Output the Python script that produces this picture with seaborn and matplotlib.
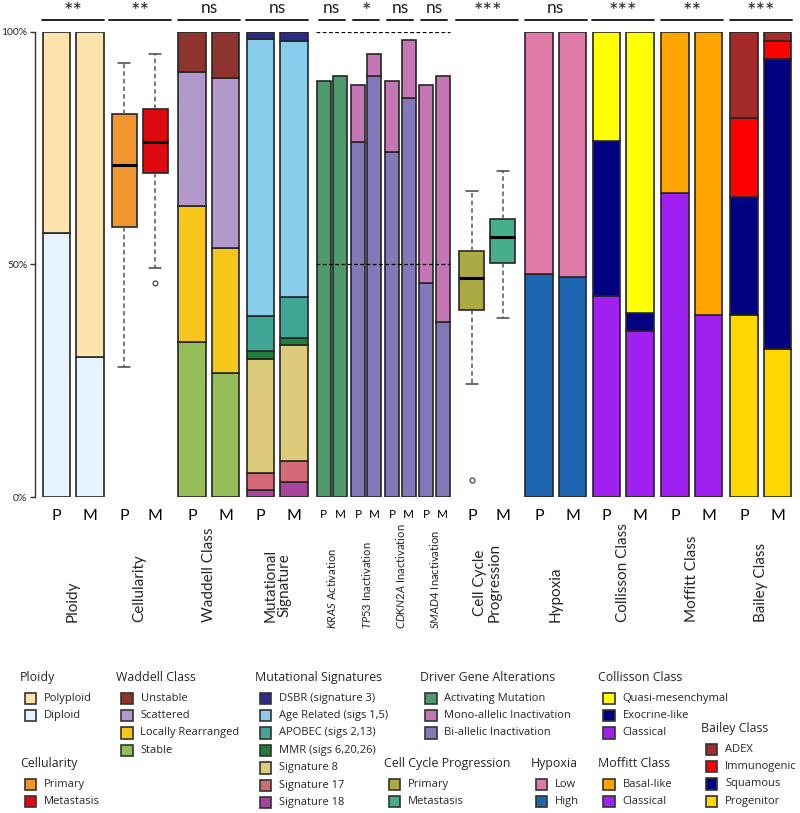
import matplotlib
matplotlib.use("Agg")
import matplotlib.pyplot as plt
import matplotlib.transforms as mtransforms
from matplotlib.patches import Rectangle
import seaborn as sns

sns.set_theme(style="white")
plt.rcParams["font.family"] = ["Lato", "DejaVu Sans"]
plt.rcParams["mathtext.fontset"] = "custom"
plt.rcParams["mathtext.rm"] = "Lato"
plt.rcParams["mathtext.it"] = "Lato:italic"

# ---- data (percent of tumours), categories listed top-of-stack first ----
samples = ["P", "M"]

ploidy_cats = ["Polyploid", "Diploid"]
ploidy_cols = ["#FFE3AC", "#E6F3FC"]
ploidy_p = [43.2, 56.8]
ploidy_m = [70.0, 30.0]

cell_cats = ["Primary", "Metastasis"]
cell_cols = ["#F0962F", "#DE0A10"]
# whislo, q1, med, q3, whishi
cell_p = [28.0, 58.1, 71.5, 82.4, 93.4]
cell_m = [49.3, 69.6, 76.3, 83.5, 95.2]
cell_p_out = []
cell_m_out = [46.0]

waddell_cats = ["Unstable", "Scattered", "Locally Rearranged", "Stable"]
waddell_cols = ["#8E342E", "#B19ACB", "#F6C61A", "#96BE58"]
waddell_p = [8.5, 28.9, 29.3, 33.3]
waddell_m = [9.8, 36.7, 26.9, 26.6]

mut_cats = ["DSBR (signature 3)", "Age Related (sigs 1,5)", "APOBEC (sigs 2,13)",
            "MMR (sigs 6,20,26)", "Signature 8", "Signature 17", "Signature 18"]
mut_cols = ["#2E2A8C", "#88CDEC", "#42A696", "#217D3C", "#DCCB7A", "#D46A78", "#A8449C"]
mut_p = [1.6, 59.4, 7.7, 1.6, 24.6, 3.7, 1.4]
mut_m = [1.9, 55.0, 8.8, 1.7, 24.8, 4.6, 3.2]

driver_cats = ["Activating Mutation", "Mono-allelic Inactivation", "Bi-allelic Inactivation"]
driver_cols = ["#4E9A6A", "#C477B4", "#8179B8"]
kras_p = [89.5, 0.0, 0.0]
kras_m = [90.5, 0.0, 0.0]
tp53_p = [0.0, 12.2, 76.3]
tp53_m = [0.0, 4.8, 90.5]
cdkn2a_p = [0.0, 15.4, 74.1]
cdkn2a_m = [0.0, 12.4, 85.9]
smad4_p = [0.0, 42.5, 46.0]
smad4_m = [0.0, 52.9, 37.6]

cc_cats = ["Primary", "Metastasis"]
cc_cols = ["#ABAA45", "#46AE8C"]
cc_p = [24.2, 40.2, 47.1, 52.8, 65.8]
cc_m = [38.6, 50.4, 56.0, 59.7, 70.1]
cc_p_out = [3.6]
cc_m_out = []

hyp_cats = ["Low", "High"]
hyp_cols = ["#DE79A8", "#1F66B0"]
hyp_p = [52.0, 48.0]
hyp_m = [52.7, 47.3]

col_cats = ["Quasi-mesenchymal", "Exocrine-like", "Classical"]
col_cols = ["#FFFF00", "#000080", "#A020F0"]
col_p = [23.4, 33.4, 43.2]
col_m = [60.4, 3.9, 35.7]

mof_cats = ["Basal-like", "Classical"]
mof_cols = ["#FFA500", "#A020F0"]
mof_p = [34.6, 65.4]
mof_m = [60.9, 39.1]

bai_cats = ["ADEX", "Immunogenic", "Squamous", "Progenitor"]
bai_cols = ["#A52A2A", "#FF0000", "#000080", "#FFD700"]
bai_p = [18.5, 16.9, 25.5, 39.1]
bai_m = [1.9, 3.9, 62.4, 31.8]

signif = ["**", "**", "ns", "ns", "ns", "*", "ns", "ns", "***", "ns", "***", "**", "***"]
group_names = ["Ploidy", "Cellularity", "Waddell Class", "Mutational\nSignature",
               r"$\it{KRAS}$ Activation", r"$\it{TP53}$ Inactivation",
               r"$\it{CDKN2A}$ Inactivation", r"$\it{SMAD4}$ Inactivation",
               "Cell Cycle\nProgression", "Hypoxia", "Collisson Class",
               "Moffitt Class", "Bailey Class"]

# ---- layout (x axis in pixel-like units) ----
W, H = 800, 813
centers = [73, 139.7, 209, 277.5, 331.8, 366.1, 400.4, 434.5, 487.4, 555.8, 623.3, 692, 760.7]
narrow = {4, 5, 6, 7}
boxes = {1, 8}
edge = "#262626"

fig = plt.figure(figsize=(W / 100, H / 100), dpi=100)
ax = fig.add_axes([35 / W, (H - 497) / H, 760 / W, 465 / H])
ax.set_xlim(35, 795)
ax.set_ylim(0, 100)


def pair_x(i):
    half = 8.2 if i in narrow else (15.5 if i in boxes else 16.75)
    return centers[i] - half, centers[i] + half


def stacked(x, vals, cols, width):
    bottom = 0
    for v, c in zip(vals[::-1], cols[::-1]):
        if v > 0:
            ax.bar(x, v, bottom=bottom, width=width, color=c, edgecolor=edge, linewidth=1.2)
        bottom += v


def box(x, st, out, col):
    stats = [dict(whislo=st[0], q1=st[1], med=st[2], q3=st[3], whishi=st[4], fliers=out)]
    ax.bxp(stats, positions=[x], widths=25, capwidths=12, patch_artist=True, manage_ticks=False,
           boxprops=dict(facecolor=col, edgecolor=edge, linewidth=1.2),
           whiskerprops=dict(color="#555555", linestyle=(0, (3, 2)), linewidth=1.1),
           capprops=dict(color="#444444", linewidth=1.1),
           medianprops=dict(color="black", linewidth=2.2),
           flierprops=dict(marker="o", markersize=3.5, markerfacecolor="none",
                           markeredgecolor="#444444", markeredgewidth=0.9))


bar_groups = {0: (ploidy_p, ploidy_m, ploidy_cols), 2: (waddell_p, waddell_m, waddell_cols),
              3: (mut_p, mut_m, mut_cols), 4: (kras_p, kras_m, driver_cols),
              5: (tp53_p, tp53_m, driver_cols), 6: (cdkn2a_p, cdkn2a_m, driver_cols),
              7: (smad4_p, smad4_m, driver_cols), 9: (hyp_p, hyp_m, hyp_cols),
              10: (col_p, col_m, col_cols), 11: (mof_p, mof_m, mof_cols),
              12: (bai_p, bai_m, bai_cols)}

for i, (vp, vm, cols) in bar_groups.items():
    xp, xm = pair_x(i)
    w = 14 if i in narrow else 27.5
    stacked(xp, vp, cols, w)
    stacked(xm, vm, cols, w)

xp, xm = pair_x(1)
box(xp, cell_p, cell_p_out, cell_cols[0])
box(xm, cell_m, cell_m_out, cell_cols[1])
xp, xm = pair_x(8)
box(xp, cc_p, cc_p_out, cc_cols[0])
box(xm, cc_m, cc_m_out, cc_cols[1])

# reference dashed lines over driver genes
for yv in (100, 50):
    ax.plot([316, 450], [yv, yv], color="black", lw=0.9, ls=(0, (3, 2)), zorder=5)

# significance lines and labels
for i, s in enumerate(signif):
    half = 13 if i in narrow else 31
    ax.plot([centers[i] - half, centers[i] + half], [102.6, 102.6], color="#222222",
            lw=1.4, clip_on=False)
    if s == "ns":
        ax.text(centers[i], 103.4, s, ha="center", va="bottom", fontsize=12.5, color="#222222")
    else:
        ax.text(centers[i], 102.2, s, ha="center", va="bottom", fontsize=16, color="#222222")

# x ticks P/M
ticks, labels = [], []
for i in range(len(centers)):
    xp, xm = pair_x(i)
    ticks += [xp, xm]
    labels += samples
ax.set_xticks(ticks)
ax.set_xticklabels(labels)
ax.tick_params(axis="x", length=0, pad=9, colors="black")
for k, t in enumerate(ax.get_xticklabels()):
    t.set_fontsize(8.5 if (k // 2) in narrow else 11.5)

ax.set_yticks([0, 50, 100])
ax.set_yticklabels(["0%", "50%", "100%"])
ax.tick_params(axis="y", left=True, length=3.5, width=1, pad=2, labelsize=7.5, color="#333333")
sns.despine(ax=ax, bottom=True)
ax.spines["left"].set_color("#333333")
ax.spines["left"].set_linewidth(1)

# rotated group labels
trans = mtransforms.blended_transform_factory(ax.transData, fig.transFigure)
for i, name in enumerate(group_names):
    base = 629 if i in narrow else 622
    ax.text(centers[i], 1 - base / H, name, transform=trans, rotation=90,
            rotation_mode="anchor", ha="left", va="center", multialignment="center",
            fontsize=8.1 if i in narrow else 11, linespacing=1.0, clip_on=False)


# ---- legends ----
def legend_block(x, y, title, cats, cols):
    fig.text(x / W, 1 - y / H, title, fontsize=8.9, va="center", ha="left",
             family=["Open Sans", "DejaVu Sans"])
    for k, (lab, c) in enumerate(zip(cats, cols)):
        yy = y + 21 + k * 17.4
        fig.add_artist(Rectangle(((x + 4.5) / W, 1 - (yy + 6) / H), 11.5 / W, 11.5 / H,
                                 transform=fig.transFigure, facecolor=c,
                                 edgecolor="#333333", lw=1.2))
        fig.text((x + 24) / W, 1 - yy / H, lab, fontsize=8.0, va="center", ha="left",
                 family=["Open Sans", "DejaVu Sans"])


legend_block(20, 677, "Ploidy", ploidy_cats, ploidy_cols)
legend_block(20, 763, "Cellularity", cell_cats, cell_cols)
legend_block(116.5, 677, "Waddell Class", waddell_cats, waddell_cols)
legend_block(255, 677, "Mutational Signatures", mut_cats, mut_cols)
legend_block(384, 763, "Cell Cycle Progression", cc_cats, cc_cols)
legend_block(420.5, 677, "Driver Gene Alterations", driver_cats, driver_cols)
legend_block(531, 763, "Hypoxia", hyp_cats, hyp_cols)
legend_block(598.5, 677, "Collisson Class", col_cats, col_cols)
legend_block(598.5, 763, "Moffitt Class", mof_cats, mof_cols)
legend_block(701, 728, "Bailey Class", bai_cats, bai_cols)

fig.savefig("out.png", dpi=100)
